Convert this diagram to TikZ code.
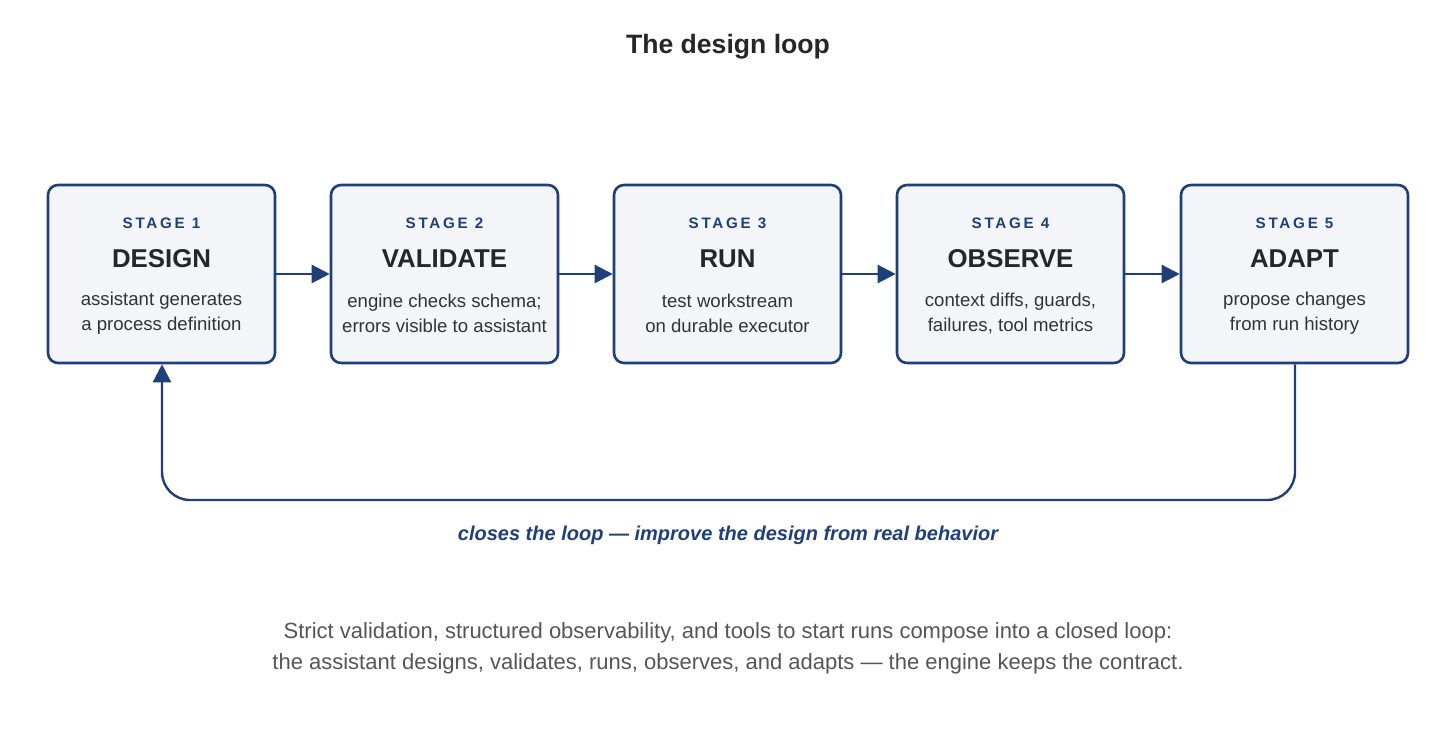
\documentclass[tikz,border=0pt]{standalone}
\usepackage{fontspec}
\setmainfont{Liberation Sans}
\usetikzlibrary{arrows.meta}
\definecolor{navy}{HTML}{1F3F7A}
\definecolor{boxfill}{HTML}{F3F5F9}
\definecolor{txt}{HTML}{333333}
\definecolor{cap}{HTML}{555555}
\begin{document}
\begin{tikzpicture}[x=0.5pt,y=-0.5pt,
  stage/.style={draw=navy,line width=1.3pt,fill=boxfill,rounded corners=5pt,minimum width=113.5pt,minimum height=89pt,inner sep=0pt},
  lab/.style={text=navy,font=\fontsize{7.6}{9}\selectfont\bfseries\addfontfeatures{LetterSpace=18}},
  ttl/.style={text=black!85,font=\fontsize{12.9}{14}\selectfont\bfseries},
  desc/.style={text=txt,align=center,font=\fontsize{9.3}{12.5}\selectfont},
  arr/.style={draw=navy,line width=1.2pt,-{Triangle[length=9pt,width=9pt]}}]
\useasboundingbox (0,0) rectangle (1456,744);
\node[ttl,font=\fontsize{13.3}{15}\selectfont\bfseries] (title) at (728,47) {The design loop};
\foreach \i/\x/\n/\d in {1/161.5/DESIGN/{assistant generates\\a process definition},
  2/444.5/VALIDATE/{engine checks schema;\\errors visible to assistant},
  3/727.5/RUN/{test workstream\\on durable executor},
  4/1010.5/OBSERVE/{context diffs, guards,\\failures, tool metrics},
  5/1294.5/ADAPT/{propose changes\\from run history}}{
  \node[stage] (s\i) at (\x,274) {};
  \node[lab] (l\i) at (\x,223) {STAGE \i};
  \node[ttl] (t\i) at (\x,259) {\n};
  \node[desc] (d\i) at (\x,313.5) {\d};
}
\foreach \a/\b in {1/2,2/3,3/4,4/5}{\draw[arr] (s\a.east) -- (s\b.west);}
\coordinate (c1) at (1295,500);
\coordinate (c2) at (162,500);
\draw[arr,rounded corners=14pt] (s5.south -| c1) -- (c1) -- (c2) -- (s1.south -| c2);
\node[text=navy,font=\fontsize{10}{11}\selectfont\bfseries\itshape] (loop) at (728,535) {closes the loop — improve the design from real behavior};
\node[text=cap,align=center,font=\fontsize{11}{15.5}\selectfont] (caption) at (728,648) {Strict validation, structured observability, and tools to start runs compose into a closed loop:\\the assistant designs, validates, runs, observes, and adapts — the engine keeps the contract.};
\end{tikzpicture}
\end{document}
